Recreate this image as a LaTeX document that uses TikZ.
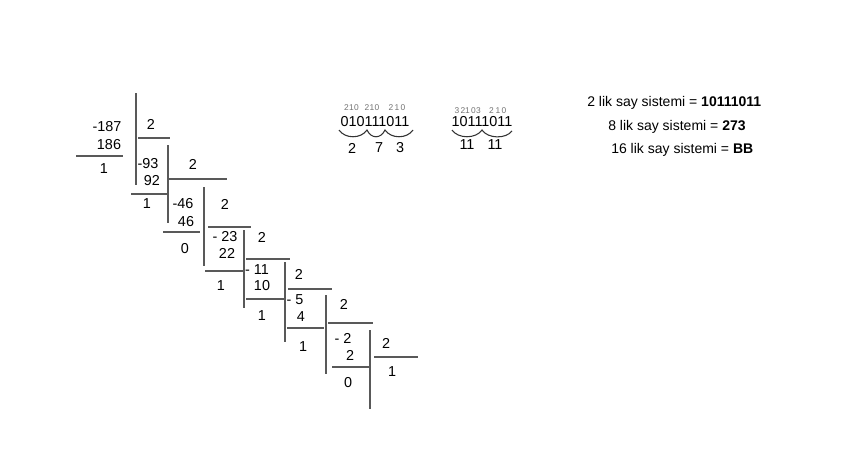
\documentclass[tikz,border=0pt]{standalone}
\usepackage{fontspec}
\setmainfont{Liberation Sans}

\begin{document}
\begin{tikzpicture}[x=0.75pt, y=-0.75pt,
  every node/.style={font=\fontsize{10.8}{12}\selectfont, inner sep=0pt},
  rule/.style={black!65, line width=0.9pt},
  idx/.style={font=\fontsize{6.3}{7}\selectfont, text=black!55},
  res/.style={anchor=base west, font=\fontsize{10.5}{12}\selectfont},
  curl/.style={black!80, line width=0.8pt}]
\useasboundingbox (0,0) rectangle (842,468);
% division ladder
\foreach \x/\ya/\yb in {136/93/185, 168/145/223, 204/187/266, 244/230/308, 285/262/342, 326/295/374, 370/330/409}
  { \draw[rule] (\x,\ya) -- (\x,\yb); }
\foreach \xa/\xb/\y in {76/123/156, 131/168/194, 163/200/232, 205/243/271, 246/284/299, 287/324/328, 332/369/367}
  { \draw[rule] (\xa,\y) -- (\xb,\y); }
\foreach \xa/\xb/\y in {138/170/138, 168/227/179, 208/251/227, 246/290/259, 288/332/289, 328/373/323, 374/418/357}
  { \draw[rule] (\xa,\y) -- (\xb,\y); }
\foreach \i/\x/\y/\lab in {0/107/127/-187, 1/148/164/-93, 2/183/204/-46, 3/225/237/- 23, 4/257/270/- 11, 5/295/300/- 5, 6/343/338/- 2}
  { \node (a\i) at (\x,\y) {\lab}; }
\foreach \i/\x/\y/\lab in {0/109/145/186, 1/152/181/92, 2/186/222/46, 3/227/253/22, 4/262/286/10, 5/301/317/4, 6/350/355/2}
  { \node (s\i) at (\x,\y) {\lab}; }
\foreach \i/\x/\y/\lab in {0/104/169/1, 1/147/204/1, 2/185/249/0, 3/221/286/1, 4/262/316/1, 5/303/347/1, 6/348/383/0}
  { \node (r\i) at (\x,\y) {\lab}; }
\foreach \i/\x/\y in {0/151/124, 1/193/164, 2/225/204, 3/262/237, 4/299/274, 5/344/304, 6/386/343}
  { \node (d\i) at (\x,\y) {2}; }
\node (q) at (392,372) {1};
% groups of 3 and 4 bits
\node (b8) at (375,122) {010111011};
\node (b16) at (482,122) {10111011};
\foreach \x/\d in {346.5/2, 351.5/1, 356.5/0, 367/2, 372/1, 377/0, 391/2, 397/1, 403/0}
  { \node[idx] (p\x) at (\x,108) {\d}; }
\foreach \x/\d in {457/3, 463/2, 467.5/1, 473.5/0, 478.5/3, 491.5/2, 498/1, 504/0}
  { \node[idx] (u\x) at (\x,111) {\d}; }
\draw[curl] (339,130) .. controls (345,139) and (361,139) .. (367,130)
  .. controls (371,139) and (381,139) .. (385,130)
  .. controls (391,139) and (407,139) .. (413,130);
\draw[curl] (452,130) .. controls (458,139) and (476,139) .. (482,130)
  .. controls (488,139) and (506,139) .. (512,131);
\node (g1) at (352,148) {2};
\node (g2) at (379,148) {7};
\node (g3) at (400,148) {3};
\node (h1) at (467,145) {11};
\node (h2) at (495,145) {11};
% results
\node[res] (t2) at (587,106) {2 lik say sistemi = \textbf{10111011}};
\node[res] (t8) at (608,130) {8 lik say sistemi = \textbf{273}};
\node[res] (t16) at (611,153) {16 lik say sistemi = \textbf{BB}};
\end{tikzpicture}
\end{document}
